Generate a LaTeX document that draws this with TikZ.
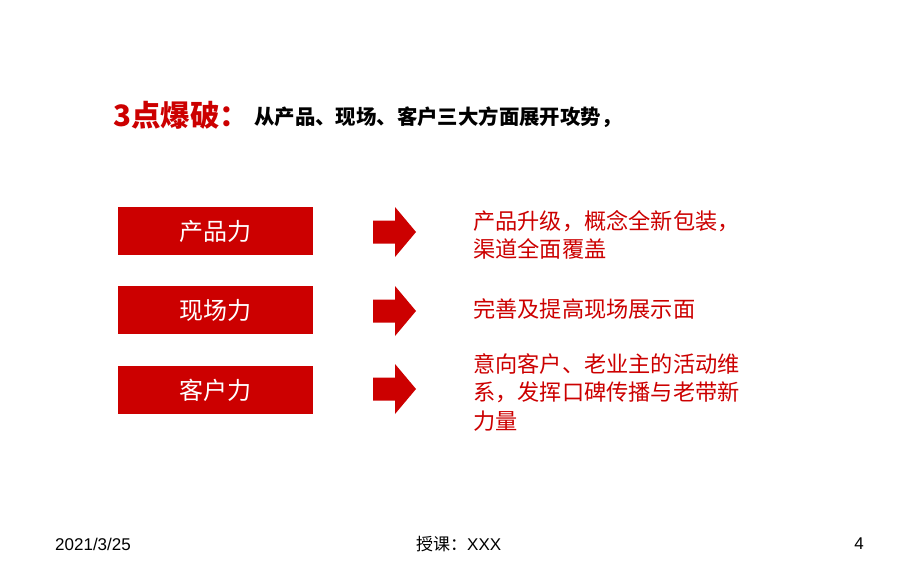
\documentclass[tikz,border=0pt]{standalone}
\usepackage{fontspec}
\setmainfont{Liberation Sans}
\newfontfamily\cjk{Noto Sans CJK SC}
\definecolor{brandred}{HTML}{CC0000}
\tikzset{
  redbox/.style={fill=brandred, draw=none, minimum width=195pt, minimum height=48pt, inner sep=0pt, text=white, font=\cjk\fontsize{24}{28}\selectfont},
  desc/.style={anchor=north west, inner sep=0pt, text=brandred, align=left, font=\cjk\fontsize{22.2}{28.5}\selectfont},
  foot/.style={inner sep=0pt, text=black, font=\fontsize{17}{20}\selectfont},
  blockarrow/.pic={\fill[brandred] (0,-11.5) -- (22,-11.5) -- (22,-25) -- (43,0) -- (22,25) -- (22,11.5) -- (0,11.5) -- cycle;}
}
\begin{document}
\begin{tikzpicture}[x=1pt,y=-1pt]
\useasboundingbox (0,0) rectangle (920,580);
\fill[white] (0,0) rectangle (920,580);
% title
\node[anchor=west, inner sep=0pt, text=brandred, font=\cjk\bfseries\fontsize{29.5}{32}\selectfont] (t1) at (113,115) {3点爆破：};
\node[anchor=west, inner sep=0pt, text=black, font=\cjk\bfseries\fontsize{20.4}{24}\selectfont] (t2) at (254,117) {从产品、现场、客户三大方面展开攻势，};
% boxes
\node[redbox] (b1) at (215.5,231) {产品力};
\node[redbox] (b2) at (215.5,310) {现场力};
\node[redbox] (b3) at (215.5,390) {客户力};
% arrows
\pic (a1) at (373,232) {blockarrow};
\pic (a2) at (373,311) {blockarrow};
\pic (a3) at (373,389) {blockarrow};
% descriptions
\node[desc] (d1) at (473,210) {产品升级，概念全新包装，\\渠道全面覆盖};
\node[desc] (d2) at (473,298) {完善及提高现场展示面};
\node[desc] (d3) at (473,353) {意向客户、老业主的活动维\\系，发挥口碑传播与老带新\\力量};
% footer
\node[foot, anchor=west] (f1) at (55,544) {2021/3/25};
\node[foot, anchor=west] (f2) at (416,544) {{\cjk 授课：}XXX};
\node[foot, anchor=east] (f3) at (864,544) {4};
\end{tikzpicture}
\end{document}
